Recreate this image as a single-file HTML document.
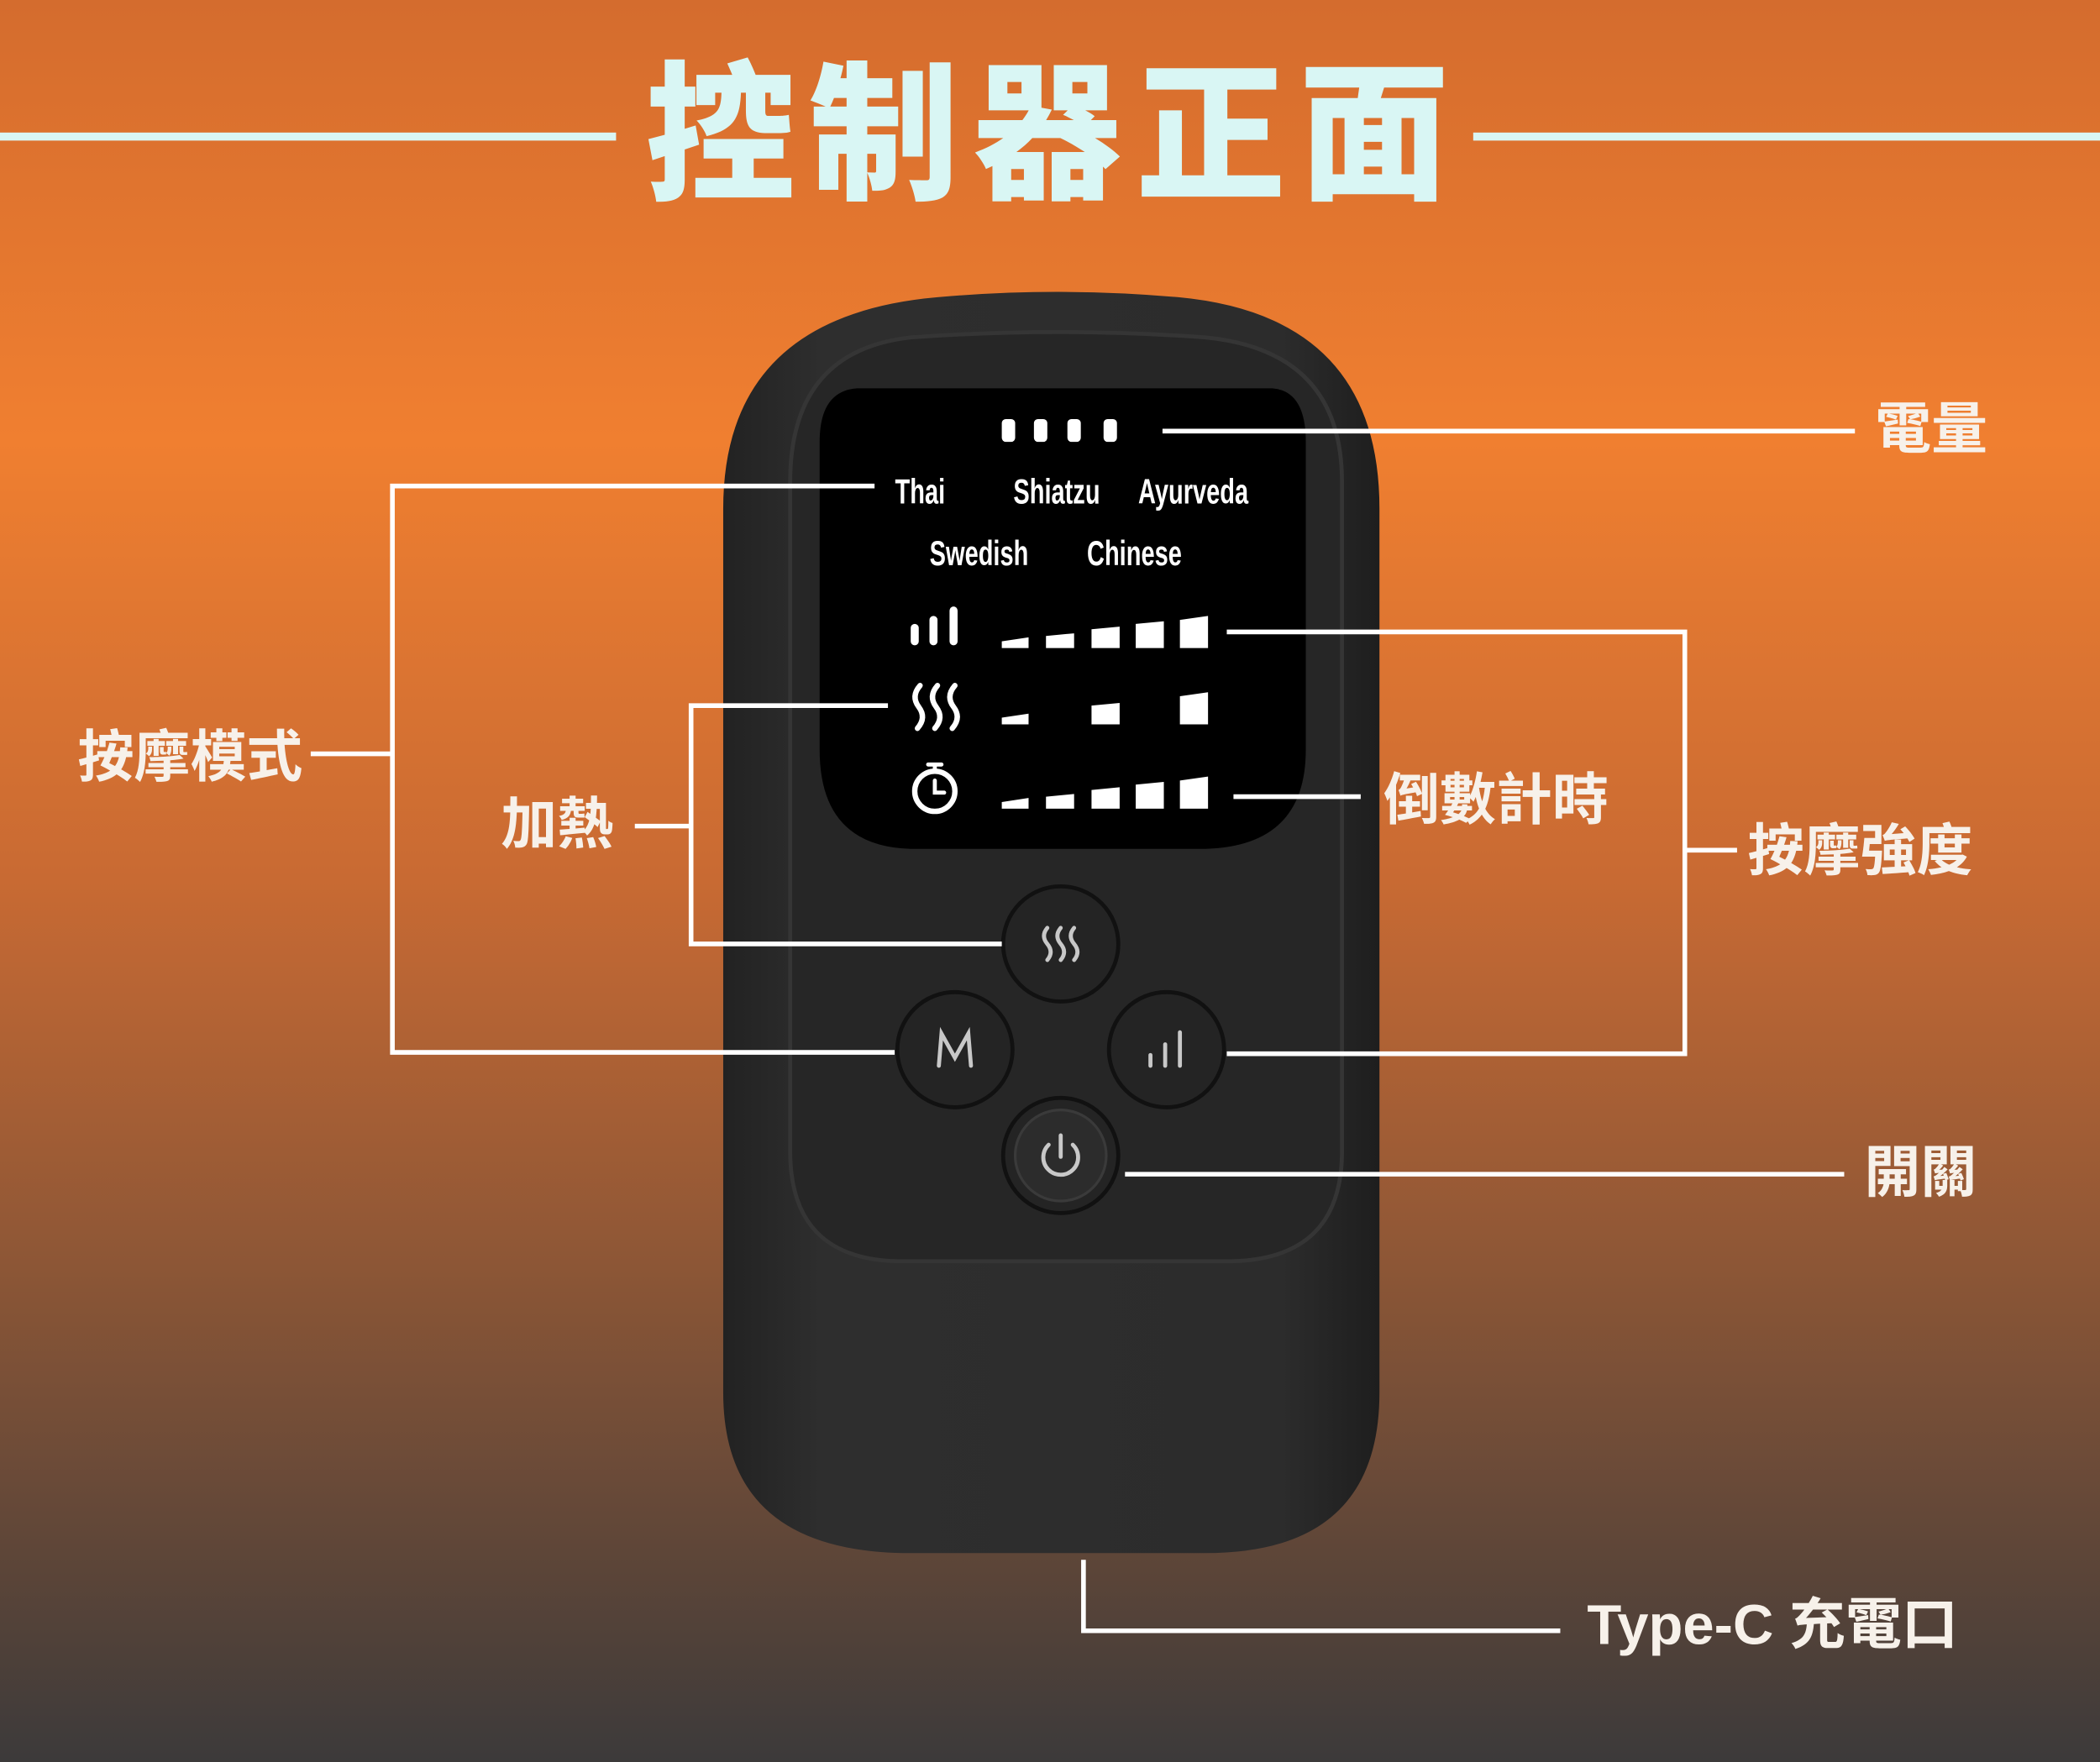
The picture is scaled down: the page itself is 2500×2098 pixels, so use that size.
<!DOCTYPE html>
<html><head><meta charset="utf-8"><style>
html,body{margin:0;padding:0;background:#000}
svg{display:block}
.lab{font-family:"Liberation Sans","Noto Sans CJK TC",sans-serif;font-weight:700;fill:#f7f1ea;font-size:42px}
.scr{font-family:"Liberation Sans",sans-serif;fill:#fff;font-size:26px;font-weight:700}
</style></head><body>
<svg width="2500" height="2098" viewBox="0 0 1568 1316" preserveAspectRatio="none" xmlns="http://www.w3.org/2000/svg">
<defs>
<linearGradient id="bg" x1="0" y1="0" x2="0" y2="1">
<stop offset="0" stop-color="#d46c2e"/>
<stop offset="0.25" stop-color="#f07f30"/>
<stop offset="0.5" stop-color="#c86a33"/>
<stop offset="0.72" stop-color="#8c5636"/>
<stop offset="1" stop-color="#3c3a3a"/>
</linearGradient>
<linearGradient id="body" x1="0" y1="0" x2="1" y2="0">
<stop offset="0" stop-color="#222"/><stop offset="0.15" stop-color="#2e2e2e"/><stop offset="0.85" stop-color="#2c2c2c"/><stop offset="1" stop-color="#1e1e1e"/>
</linearGradient>
</defs>
<rect width="1568" height="1316" fill="url(#bg)"/>
<rect x="0" y="99" width="460" height="6" fill="#d9f6f4"/>
<rect x="1100" y="99" width="468" height="6" fill="#d9f6f4"/>
<text x="787" y="140" text-anchor="middle" font-family="'Liberation Sans','Noto Sans CJK TC',sans-serif" font-weight="900" font-size="112" fill="#d9f6f4" letter-spacing="10">控制器正面</text>
<path d="M700 222 Q790 214 880 222 Q1030 236 1030 380 L1030 1040 Q1030 1160 900 1160 L680 1160 Q540 1160 540 1040 L540 380 Q540 236 700 222 Z" fill="url(#body)"/>
<path d="M680 252 Q790 244 900 252 Q1002 262 1002 360 L1002 860 Q1002 940 920 942 L670 942 Q590 940 590 860 L590 360 Q590 262 680 252 Z" fill="#262626" stroke="#353535" stroke-width="3"/>
<path d="M640 290 L950 290 Q975 292 975 330 L975 560 Q975 632 900 634 L680 634 Q612 632 612 560 L612 330 Q612 292 640 290 Z" fill="#000"/>
<rect x="748" y="313" width="10" height="17" rx="3" fill="#fff"/>
<rect x="772" y="313" width="10" height="17" rx="3" fill="#fff"/>
<rect x="797" y="313" width="10" height="17" rx="3" fill="#fff"/>
<rect x="824" y="313" width="10" height="17" rx="3" fill="#fff"/>
<g class="scr">
<text x="687" y="376" text-anchor="middle" transform="translate(687 0) scale(0.7 1) translate(-687 0)">Thai</text>
<text x="789" y="376" text-anchor="middle" transform="translate(789 0) scale(0.7 1) translate(-789 0)">Shiatzu</text>
<text x="891" y="376" text-anchor="middle" transform="translate(891 0) scale(0.7 1) translate(-891 0)">Ayurveda</text>
<text x="731" y="422" text-anchor="middle" transform="translate(731 0) scale(0.7 1) translate(-731 0)">Swedish</text>
<text x="847" y="422" text-anchor="middle" transform="translate(847 0) scale(0.7 1) translate(-847 0)">Chinese</text>
</g>
<g fill="#fff">
<rect x="680" y="466" width="6" height="16" rx="3"/><rect x="694" y="460" width="6" height="22" rx="3"/><rect x="709" y="453" width="6" height="29" rx="3"/>
</g>
<g fill="none" stroke="#fff" stroke-width="4" stroke-linecap="round">
<path d="M687 512 Q680 520 686 528 Q692 536 685 544"/>
<path d="M700 512 Q693 520 699 528 Q705 536 698 544"/>
<path d="M713 512 Q706 520 712 528 Q718 536 711 544"/>
<circle cx="698" cy="591" r="15"/>
<path d="M698 583 V592 H705" stroke-width="3"/>
<path d="M693 571 H703 M698 571 V576" stroke-width="3"/>
</g>
<g fill="#fff">
<path d="M748 484 L768 484 L768 476 L748 479Z"/><path d="M781 484 L802 484 L802 473 L781 475Z"/><path d="M815 484 L836 484 L836 468 L815 470Z"/><path d="M848 484 L869 484 L869 464 L848 466Z"/><path d="M881 484 L902 484 L902 460 L881 463Z"/>
<path d="M748 541 L768 541 L768 533 L748 536Z"/><path d="M815 541 L836 541 L836 525 L815 527Z"/><path d="M881 541 L902 541 L902 517 L881 520Z"/>
<path d="M748 604 L768 604 L768 596 L748 599Z"/><path d="M781 604 L802 604 L802 593 L781 595Z"/><path d="M815 604 L836 604 L836 588 L815 590Z"/><path d="M848 604 L869 604 L869 584 L848 586Z"/><path d="M881 604 L902 604 L902 580 L881 583Z"/>
</g>
<g fill="#242424" stroke="#111" stroke-width="3">
<circle cx="792" cy="705" r="43"/><circle cx="713" cy="784" r="43"/><circle cx="871" cy="784" r="43"/><circle cx="792" cy="863" r="43"/>
</g>
<circle cx="792" cy="863" r="34" fill="#2c2c2c" stroke="#3a3a3a" stroke-width="2"/>
<g fill="none" stroke="#c8c8c8" stroke-width="3" stroke-linecap="round">
<path d="M782 693 Q777 699 782 705 Q787 711 782 717"/><path d="M792 693 Q787 699 792 705 Q797 711 792 717"/><path d="M802 693 Q797 699 802 705 Q807 711 802 717"/>
<path d="M701 796 L703 772 L713 790 L723 772 L725 796"/>
<path d="M859 788 V796 M870 780 V796 M881 771 V796"/>
<path d="M783 855 A13 13 0 1 0 801 855"/><path d="M792 848 V864"/>
</g>
<g fill="none" stroke="#fff" stroke-width="3.5">
<path d="M868 322 H1385"/>
<path d="M653 363 H293 V786 H668"/><path d="M232 563 H293"/>
<path d="M663 527 H516 V705 H748"/><path d="M474 617 H516"/>
<path d="M916 472 H1258 V787 H916"/><path d="M1258 635 H1297"/>
<path d="M921 595 H1016"/>
<path d="M840 877 H1377"/>
<path d="M809 1165 V1218 H1165"/>
</g>
<g class="lab">
<text x="1400" y="335">電量</text>
<text x="58" y="580">按摩模式</text>
<text x="374" y="630">加熱</text>
<text x="1033" y="612">倒數計時</text>
<text x="1305" y="650">按摩強度</text>
<text x="1392" y="890">開關</text>
<text x="1185" y="1228">Type-C 充電口</text>
</g>
</svg>
</body></html>
